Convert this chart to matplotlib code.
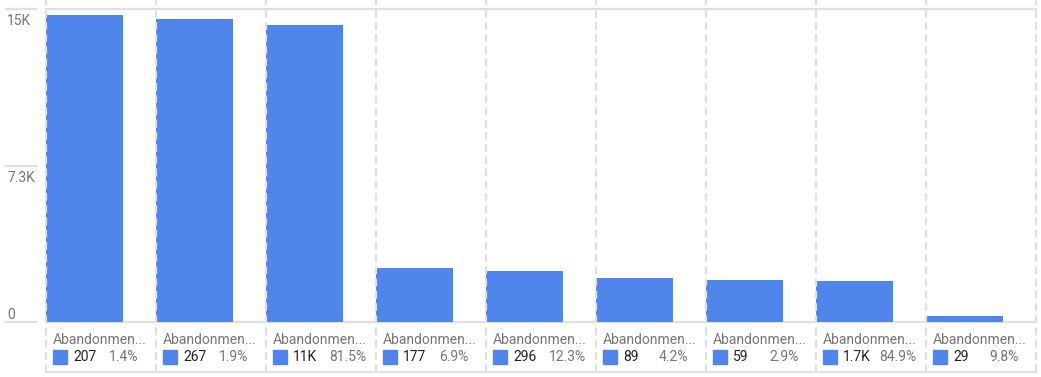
import matplotlib
matplotlib.use('Agg')
import matplotlib.pyplot as plt
import matplotlib.transforms as mtransforms
from matplotlib.patches import Rectangle
import numpy as np

plt.rcParams['font.family'] = ['Roboto', 'DejaVu Sans']

# data
labels = ['Abandonmen...'] * 9
heights = [14320, 14130, 13850, 2520, 2380, 2050, 1960, 1910, 280]
values = ['207', '267', '11K', '177', '296', '89', '59', '1.7K', '29']
percents = ['1.4%', '1.9%', '81.5%', '6.9%', '12.3%', '4.2%', '2.9%', '84.9%', '9.8%']
yticks = [0, 7300, 14600]
ytick_labels = ['0', '7.3K', '15K']

bar_color = '#5085ec'
grid_color = '#e0e0e0'
gray_text = '#757575'
fs = 10

W, H = 1041, 377
fig = plt.figure(figsize=(W / 100, H / 100), dpi=100)
# plot area in pixels: x 46..1036, y 9..322
ax = fig.add_axes([46 / W, (H - 322) / H, 990 / W, 313 / H])
ax.set_xlim(0, len(heights))
ax.set_ylim(0, yticks[-1])
ax.axis('off')

x = np.arange(len(heights))
ax.bar(x, heights, width=0.7, align='edge', color=bar_color, zorder=2)

blend = mtransforms.blended_transform_factory(ax.transData, ax.transAxes)
px = 1 / 313  # one pixel in axes y units
col = 1 / 110  # one pixel in data x units

# vertical dashed separators
for i in range(len(heights) + 1):
    ax.plot([i, i], [-50 * px, 1 + 9 * px], transform=blend, clip_on=False,
            color=grid_color, lw=1.6, ls=(0, (3.5, 2)), zorder=3)

# horizontal lines: top, baseline, bottom
for yy in [1, 0, -50 * px]:
    ax.plot([0, len(heights)], [yy, yy], transform=blend, clip_on=False,
            color=grid_color, lw=1.6, zorder=1)

# y axis ticks on the left
ytrans = mtransforms.blended_transform_factory(fig.transFigure, ax.transData)
ypx = yticks[-1] / 313
for t, lab in zip(yticks, ytick_labels):
    ax.plot([6 / W, 36 / W], [t, t], transform=ytrans, clip_on=False,
            color=grid_color, lw=1.6)
    if t == 0:
        ax.text(7 / W, t + 3 * ypx, lab, transform=ytrans, ha='left', va='baseline',
                fontsize=fs, color=gray_text)
    else:
        ax.text(7 / W, t - 5 * ypx, lab, transform=ytrans, ha='left', va='top',
                fontsize=fs, color=gray_text)

# category legend below each bar
for i in range(len(heights)):
    ax.text(i + 7 * col, -18 * px, labels[i], transform=blend, ha='left',
            va='center', fontsize=fs, color=gray_text)
    ax.add_patch(Rectangle((i + 7 * col, -42 * px), 14 * col, 14 * px,
                           transform=blend, clip_on=False, color=bar_color))
    ax.text(i + 27 * col, -35 * px, values[i], transform=blend, ha='left',
            va='center', fontsize=fs, color='#212121')
    ax.text(i + 63 * col, -35 * px, percents[i], transform=blend, ha='left',
            va='center', fontsize=fs, color=gray_text)

fig.savefig('out.png', dpi=100)
